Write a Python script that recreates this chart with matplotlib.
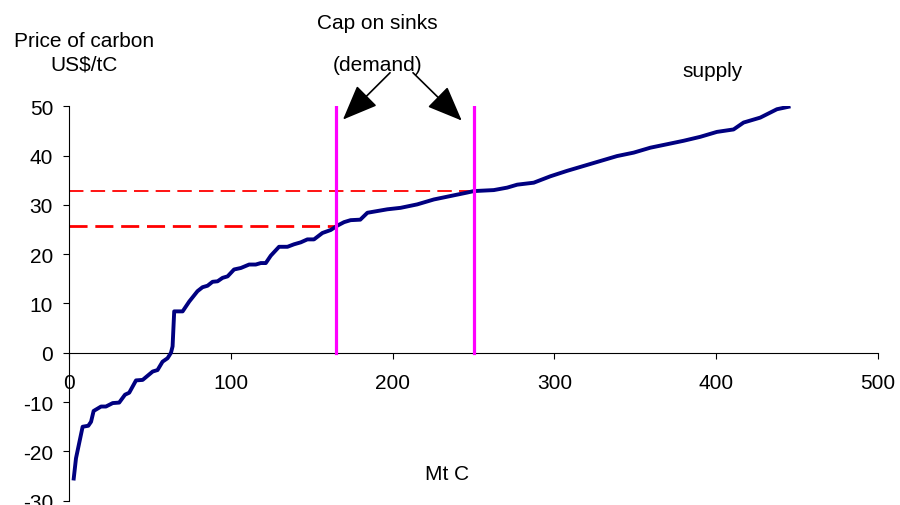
import matplotlib
matplotlib.use("Agg")
import matplotlib.pyplot as plt

plt.rcParams['font.family'] = ['Liberation Sans', 'DejaVu Sans']
plt.rcParams['axes.unicode_minus'] = False

# supply curve (Mt C, US$/tC)
supply_x = [2.9, 4.3, 8.4, 11.9, 13.6, 15.2, 19.8, 22.8, 27, 31, 34.6, 37.2, 41.4,
            45.5, 51.7, 54.7, 57.8, 60.9, 63, 64, 65, 70.2, 74.3, 79.4, 82.5, 85.6,
            88.7, 91.8, 94.9, 98, 102, 106.2, 111.3, 115.4, 118.5, 121.6, 124.7,
            129.8, 135, 139, 143.2, 147.3, 151.4, 156.6, 161.7, 165.9, 170, 174,
            180, 184.4, 196.7, 204.9, 215.2, 225.5, 235.8, 246.1, 250.2, 262.5,
            270.8, 277, 287.2, 297.5, 307.8, 318.1, 328.4, 338.7, 349, 359.3,
            369.6, 379.8, 390.1, 400.4, 410.7, 416.9, 427.2, 437.5, 444.7]
supply_y = [-25.5, -21.4, -15.0, -14.8, -14.0, -11.8, -10.9, -10.9, -10.2, -10.1,
            -8.5, -8.1, -5.6, -5.5, -3.8, -3.5, -1.8, -1.1, 0.0, 1.3, 8.4, 8.4,
            10.4, 12.5, 13.3, 13.6, 14.4, 14.5, 15.2, 15.5, 16.9, 17.2, 17.9, 17.9,
            18.2, 18.2, 19.7, 21.5, 21.5, 22.0, 22.4, 23.0, 23.0, 24.3, 24.9, 25.8,
            26.5, 26.9, 27.0, 28.4, 29.1, 29.4, 30.1, 31.1, 31.8, 32.5, 32.8, 33.0,
            33.5, 34.1, 34.5, 35.8, 36.9, 37.9, 38.9, 39.9, 40.6, 41.6, 42.3, 43.0,
            43.8, 44.8, 45.3, 46.7, 47.7, 49.4, 49.9]

# caps on sinks and the matching prices
caps = [165, 250]
cap_prices = [25.8, 32.8]

fig = plt.figure(figsize=(9, 5.06), dpi=100)
ax = fig.add_axes([0.0767, 0.0085, 0.8989, 0.7795])

ax.plot(supply_x, supply_y, color='#000080', lw=2.8, solid_joinstyle='round', zorder=3)

for c in caps:
    ax.plot([c, c], [0, 50], color='#ff00ff', lw=2.3, zorder=4)

ax.plot([0, caps[0]], [cap_prices[0]] * 2, color='#ff0000', lw=2.0,
        dashes=(6.5, 2.8), zorder=2)
ax.plot([0, caps[1]], [cap_prices[1]] * 2, color='#ff0000', lw=1.3,
        dashes=(8, 4), zorder=2)

ax.set_xlim(0, 500)
ax.set_ylim(-30, 50)
ax.set_xticks(range(0, 501, 100))
ax.set_yticks(range(-30, 51, 10))
ax.spines['top'].set_visible(False)
ax.spines['right'].set_visible(False)
ax.spines['bottom'].set_position(('data', 0))
ax.tick_params(labelsize=15, length=4.5, width=0.8, direction='out', pad=7)
ax.tick_params(axis='x', pad=10)

# arrows from "(demand)" to the cap lines
arrow = dict(arrowstyle='-|>,head_length=1.1,head_width=0.45', mutation_scale=20,
             color='black', lw=1.2, shrinkA=0, shrinkB=0)
ax.annotate('', xy=(169.3, 47.3), xytext=(198.4, 56.8), arrowprops=arrow,
            annotation_clip=False)
ax.annotate('', xy=(242.7, 47.1), xytext=(212.6, 56.8), arrowprops=arrow,
            annotation_clip=False)

fig.text(0.419, 0.9526, 'Cap on sinks', fontsize=15, ha='center', va='center')
fig.text(0.419, 0.8715, '(demand)', fontsize=15, ha='center', va='center')
fig.text(0.792, 0.858, 'supply', fontsize=15, ha='center', va='center')
fig.text(0.0933, 0.917, 'Price of carbon', fontsize=15, ha='center', va='center')
fig.text(0.0933, 0.8715, 'US$/tC', fontsize=15, ha='center', va='center')
fig.text(0.4963, 0.0613, 'Mt C', fontsize=15, ha='center', va='center')

fig.savefig('out.png', dpi=100)
